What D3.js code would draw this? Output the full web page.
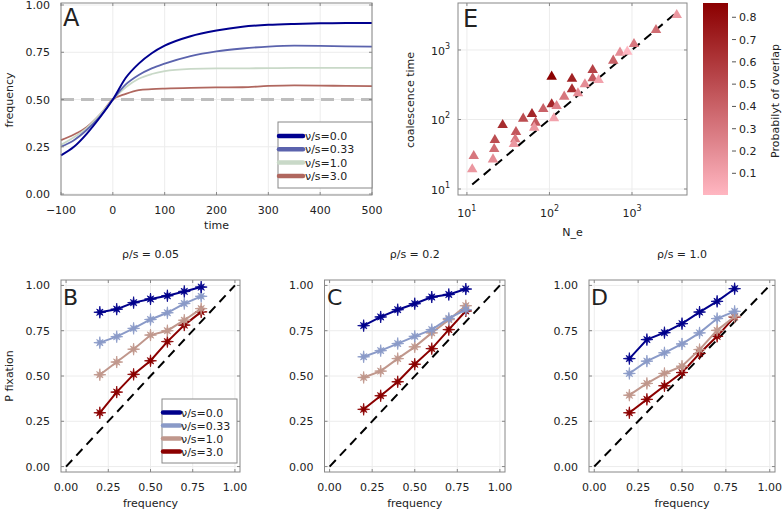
<!DOCTYPE html>
<html><head><meta charset="utf-8">
<script src="https://cdn.jsdelivr.net/npm/d3@7"></script>
<style>
body{margin:0;background:#fff;}
text{font-family:"DejaVu Sans",sans-serif;fill:#222;}
</style></head>
<body>
<svg id="c" width="782" height="510"></svg>
<script>
// ---------- DATA ----------
// Panel A: frequency trajectories vs time
const timesA = [-100,-75,-50,-25,0,25,50,75,100,150,200,250,300,350,400,450,500];
const seriesANames = ["ν/s=0.0","ν/s=0.33","ν/s=1.0","ν/s=3.0"];
const freqA_0  = [0.205,0.25,0.32,0.405,0.5,0.615,0.69,0.745,0.785,0.835,0.865,0.885,0.895,0.900,0.903,0.905,0.905];
const freqA_33 = [0.25,0.285,0.34,0.41,0.5,0.58,0.63,0.665,0.69,0.73,0.755,0.77,0.78,0.785,0.784,0.781,0.78];
const freqA_1  = [0.26,0.30,0.35,0.42,0.5,0.565,0.61,0.635,0.65,0.662,0.665,0.665,0.666,0.667,0.667,0.667,0.667];
const freqA_3  = [0.285,0.315,0.355,0.42,0.5,0.53,0.55,0.555,0.558,0.562,0.564,0.565,0.572,0.575,0.574,0.572,0.571];
const refLevelA = 0.5;
const xTicksA = [-100,0,100,200,300,400,500];
const yTicks01 = [0,0.25,0.5,0.75,1];

// Panel E: coalescence time vs N_e, colored by probability of overlap
const Ne = [12.1,11.6,21.8,21.4,20.7,27.1,39.3,38.5,37.1,48.1,61.4,68.0,65.4,84.1,106.4,106.4,113.4,122.2,151,187.5,187.5,221.5,269,334,334,394.5,593,716,877,1057,1954,3483];
const coalTime = [29.8,19.2,50.7,37.6,26.7,83.3,66.1,51.9,44.4,102.8,120,90,76.2,141.6,413,165.5,104,156.4,212.8,386,271.8,238,320.9,515,391.5,370,701.5,914,946,1219,1940,3190];
const overlap = [0.3,0.15,0.5,0.35,0.2,0.65,0.45,0.3,0.15,0.5,0.68,0.45,0.15,0.4,0.86,0.68,0.1,0.25,0.3,0.7,0.65,0.2,0.2,0.55,0.45,0.1,0.4,0.2,0.005,0.3,0.35,0.15];
const colorbarTicks = [0.1,0.2,0.3,0.4,0.5,0.6,0.7,0.8];
const logTicksE = [10,100,1000];

// Panels B-D: P fixation vs initial frequency
const freqBD = [0.2,0.3,0.4,0.5,0.6,0.7,0.8];
const seriesBDNames = ["ν/s=0.0","ν/s=0.33","ν/s=1.0","ν/s=3.0"];
const panelTitles = ["ρ/s = 0.05","ρ/s = 0.2","ρ/s = 1.0"];
const pfixB_0  = [0.852,0.869,0.905,0.925,0.943,0.967,0.991];
const pfixB_33 = [0.684,0.717,0.763,0.812,0.849,0.900,0.940];
const pfixB_1  = [0.507,0.577,0.648,0.726,0.750,0.808,0.872];
const pfixB_3  = [0.297,0.411,0.509,0.584,0.690,0.781,0.854];
const pfixC_0  = [0.778,0.826,0.866,0.899,0.936,0.950,0.980];
const pfixC_33 = [0.606,0.640,0.679,0.719,0.756,0.818,0.866];
const pfixC_1  = [0.492,0.527,0.596,0.661,0.738,0.811,0.888];
const pfixC_3  = [0.316,0.391,0.468,0.565,0.651,0.756,0.859];
const pfixD_0  = [0.596,0.701,0.739,0.789,0.853,0.912,0.982];
const pfixD_33 = [0.514,0.582,0.628,0.677,0.738,0.817,0.857];
const pfixD_1  = [0.394,0.459,0.514,0.554,0.646,0.752,0.829];
const pfixD_3  = [0.297,0.371,0.446,0.519,0.624,0.719,0.826];
const xTicksBD = [0,0.25,0.5,0.75,1];

// ---------- STYLE ----------
const colA = ["#00008f","#5b63ad","#c9d9c8","#b0675f"];
const colBD = ["#00008b","#8a9ac8","#c0978c","#8b0000"];
const frameCol = "#888";
const gridCol = "#ececec";
const fmt2 = d3.format(".2f");

const svg = d3.select("#c");

function frame(g, x0,x1,y0,y1){
  g.append("rect").attr("x",x0).attr("y",y0).attr("width",x1-x0).attr("height",y1-y0)
   .attr("fill","none").attr("stroke",frameCol).attr("stroke-width",1);
}
function grids(g, xs, ys, xt, yt, x0,x1,y0,y1){
  xt.forEach(t=>{const p=xs(t); g.append("line").attr("x1",p).attr("x2",p).attr("y1",y0).attr("y2",y1).attr("stroke",gridCol);});
  yt.forEach(t=>{const p=ys(t); g.append("line").attr("y1",p).attr("y2",p).attr("x1",x0).attr("x2",x1).attr("stroke",gridCol);});
}
function ticks(g, xs, ys, xt, yt, x0,x1,y0,y1){
  xt.forEach(t=>{const p=xs(t);
    g.append("line").attr("x1",p).attr("x2",p).attr("y1",y1).attr("y2",y1-3).attr("stroke",frameCol);
    g.append("line").attr("x1",p).attr("x2",p).attr("y1",y0).attr("y2",y0+3).attr("stroke",frameCol);});
  yt.forEach(t=>{const p=ys(t);
    g.append("line").attr("y1",p).attr("y2",p).attr("x1",x0).attr("x2",x0+3).attr("stroke",frameCol);
    g.append("line").attr("y1",p).attr("y2",p).attr("x1",x1).attr("x2",x1-3).attr("stroke",frameCol);});
}
function starPath(r){
  const pts=[];
  for(let i=0;i<16;i++){
    const a = i*Math.PI/8 - Math.PI/2;
    const rr = (i%2===0) ? ((i%4===0)? r : r*0.75) : r*0.3;
    pts.push([rr*Math.cos(a), rr*Math.sin(a)]);
  }
  return "M"+pts.map(p=>p[0].toFixed(2)+","+p[1].toFixed(2)).join("L")+"Z";
}

// ---------- PANEL A ----------
{
  const x0=61,x1=372,y0=3,y1=195;
  const xs=d3.scaleLinear().domain([-100,500]).range([x0,x1]);
  const ys=d3.scaleLinear().domain([-0.005,1.0106]).range([y1,y0]);
  const g=svg.append("g");
  grids(g,xs,ys,xTicksA,yTicks01,x0,x1,y0,y1);
  // reference dashed line
  g.append("line").attr("x1",xs(-100)).attr("x2",xs(500)).attr("y1",ys(refLevelA)).attr("y2",ys(refLevelA))
   .attr("stroke","#bdbdbd").attr("stroke-width",3).attr("stroke-dasharray","13,7");
  const allA=[freqA_0,freqA_33,freqA_1,freqA_3];
  const line=d3.line().x((d,i)=>xs(timesA[i])).y(d=>ys(d)).curve(d3.curveMonotoneX);
  allA.slice().reverse().forEach((s,k)=>{
    const idx=3-k;
    g.append("path").attr("d",line(s)).attr("fill","none").attr("stroke",colA[idx]).attr("stroke-width",idx===0?2:1.8);
  });
  frame(g,x0,x1,y0,y1);
  ticks(g,xs,ys,xTicksA,yTicks01,x0,x1,y0,y1);
  xTicksA.forEach(t=>g.append("text").attr("x",xs(t)).attr("y",214).attr("text-anchor","middle").attr("font-size",11).text(t<0?"−"+(-t):t));
  yTicks01.forEach(t=>g.append("text").attr("x",50).attr("y",ys(t)+4).attr("text-anchor","end").attr("font-size",11).text(fmt2(t)));
  g.append("text").attr("x",(x0+x1)/2).attr("y",229).attr("text-anchor","middle").attr("font-size",11).text("time");
  g.append("text").attr("transform","translate(13,100) rotate(-90)").attr("text-anchor","middle").attr("font-size",11).text("frequency");
  g.append("text").attr("x",63).attr("y",26).attr("font-size",24).text("A");
  // legend
  const lx=278, ly=122, lw=x1-lx, lh=66;
  g.append("rect").attr("x",lx).attr("y",ly).attr("width",lw).attr("height",lh).attr("fill","#fff").attr("stroke",frameCol);
  seriesANames.forEach((n,i)=>{
    const yy=ly+14+i*13.3;
    g.append("line").attr("x1",lx+1).attr("x2",lx+25).attr("y1",yy).attr("y2",yy).attr("stroke",colA[i]).attr("stroke-width",4.5).attr("stroke-linecap","round");
    g.append("text").attr("x",lx+27).attr("y",yy+4).attr("font-size",11).text(n);
  });
}

// ---------- PANEL E ----------
{
  const x0=458,x1=687,y0=3,y1=195;
  const xs=d3.scaleLog().domain([7.8,4640]).range([x0,x1]);
  const ys=d3.scaleLog().domain([8.2,4740]).range([y1,y0]);
  const ext=d3.extent(overlap);
  const cs=d3.scaleLinear().domain(ext).range(["#ffb6c1","#8b0000"]).interpolate(d3.interpolateRgb);
  const g=svg.append("g");
  grids(g,xs,ys,logTicksE,logTicksE,x0,x1,y0,y1);
  const lo=d3.min(Ne), hi=d3.max(Ne);
  g.append("line").attr("x1",xs(lo)).attr("y1",ys(lo)).attr("x2",xs(hi)).attr("y2",ys(hi))
   .attr("stroke","#000").attr("stroke-width",2).attr("stroke-dasharray","9,6");
  const tri=d3.symbol().type(d3.symbolTriangle).size(48);
  Ne.forEach((n,i)=>{
    g.append("path").attr("d",tri()).attr("transform",`translate(${xs(n)},${ys(coalTime[i])})`).attr("fill",cs(overlap[i]));
  });
  frame(g,x0,x1,y0,y1);
  ticks(g,xs,ys,logTicksE,logTicksE,x0,x1,y0,y1);
  logTicksE.forEach(t=>{
    const e=Math.round(Math.log10(t));
    const tx=g.append("text").attr("x",xs(t)).attr("y",217).attr("text-anchor","middle").attr("font-size",11);
    tx.append("tspan").text("10"); tx.append("tspan").attr("dy",-6).attr("font-size",8).text(e);
    const ty=g.append("text").attr("x",450).attr("y",ys(t)+5).attr("text-anchor","end").attr("font-size",11);
    ty.append("tspan").text("10"); ty.append("tspan").attr("dy",-6).attr("font-size",8).text(e);
  });
  g.append("text").attr("x",(x0+x1)/2).attr("y",236).attr("text-anchor","middle").attr("font-size",11).text("N_e");
  g.append("text").attr("transform","translate(414,100) rotate(-90)").attr("text-anchor","middle").attr("font-size",11).text("coalescence time");
  g.append("text").attr("x",463).attr("y",27).attr("font-size",24).text("E");

  // colorbar
  const cx0=703,cx1=728,cy0=3,cy1=195;
  const cbs=d3.scaleLinear().domain([0.0027,0.864]).range([cy1,cy0]);
  const defs=svg.append("defs");
  const grad=defs.append("linearGradient").attr("id","cbg").attr("x1",0).attr("x2",0).attr("y1",1).attr("y2",0);
  d3.range(0,1.001,0.1).forEach(f=>{
    const v=cbs.domain()[0]+f*(cbs.domain()[1]-cbs.domain()[0]);
    grad.append("stop").attr("offset",f).attr("stop-color",cs(Math.max(ext[0],Math.min(ext[1],v))));
  });
  g.append("rect").attr("x",cx0).attr("y",cy0).attr("width",cx1-cx0).attr("height",cy1-cy0).attr("fill","url(#cbg)");
  colorbarTicks.forEach(t=>{
    g.append("line").attr("x1",cx1+4).attr("x2",cx1+8).attr("y1",cbs(t)).attr("y2",cbs(t)).attr("stroke","#555");
    g.append("text").attr("x",739).attr("y",cbs(t)+4).attr("font-size",11).text(t.toFixed(1));
  });
  g.append("text").attr("transform","translate(779,101) rotate(-90)").attr("text-anchor","middle").attr("font-size",11).text("Probabilyt of overlap");
}

// ---------- PANELS B, C, D ----------
const panelsBD = [
  {x0:61,x1:240,letter:"B",lx:63,title:panelTitles[0],data:[pfixB_0,pfixB_33,pfixB_1,pfixB_3],legend:true,ylab:true},
  {x0:324.5,x1:505,letter:"C",lx:327,title:panelTitles[1],data:[pfixC_0,pfixC_33,pfixC_1,pfixC_3]},
  {x0:589,x1:775,letter:"D",lx:591,title:panelTitles[2],data:[pfixD_0,pfixD_33,pfixD_1,pfixD_3]}
];
panelsBD.forEach(P=>{
  const x0=P.x0,x1=P.x1,y0=280,y1=472;
  const xs=d3.scaleLinear().domain([-0.03,1.03]).range([x0,x1]);
  const ys=d3.scaleLinear().domain([-0.03,1.03]).range([y1,y0]);
  const g=svg.append("g");
  grids(g,xs,ys,xTicksBD,yTicks01,x0,x1,y0,y1);
  g.append("line").attr("x1",xs(0)).attr("y1",ys(0)).attr("x2",xs(1)).attr("y2",ys(1))
   .attr("stroke","#000").attr("stroke-width",2).attr("stroke-dasharray","9,6");
  const line=d3.line().x((d,i)=>xs(freqBD[i])).y(d=>ys(d));
  const sp=starPath(6);
  P.data.slice().reverse().forEach((s,k)=>{
    const idx=3-k;
    g.append("path").attr("d",line(s)).attr("fill","none").attr("stroke",colBD[idx]).attr("stroke-width",2);
    s.forEach((v,i)=>g.append("path").attr("d",sp).attr("transform",`translate(${xs(freqBD[i])},${ys(v)})`).attr("fill",colBD[idx]).attr("stroke",colBD[idx]).attr("stroke-width",0.8));
  });
  frame(g,x0,x1,y0,y1);
  ticks(g,xs,ys,xTicksBD,yTicks01,x0,x1,y0,y1);
  xTicksBD.forEach(t=>g.append("text").attr("x",xs(t)).attr("y",491).attr("text-anchor","middle").attr("font-size",11).text(fmt2(t)));
  yTicks01.forEach(t=>g.append("text").attr("x",x0-11).attr("y",ys(t)+4).attr("text-anchor","end").attr("font-size",11).text(fmt2(t)));
  g.append("text").attr("x",(x0+x1)/2).attr("y",507).attr("text-anchor","middle").attr("font-size",11).text("frequency");
  g.append("text").attr("x",(x0+x1)/2).attr("y",258).attr("text-anchor","middle").attr("font-size",11).text(P.title);
  g.append("text").attr("x",P.lx).attr("y",305).attr("font-size",22).text(P.letter);
  if(P.ylab) g.append("text").attr("transform","translate(13,376) rotate(-90)").attr("text-anchor","middle").attr("font-size",11).text("P fixation");
  if(P.legend){
    const lx=162, ly=399, lw=75, lh=64;
    g.append("rect").attr("x",lx).attr("y",ly).attr("width",lw).attr("height",lh).attr("fill","#fff").attr("stroke",frameCol);
    seriesBDNames.forEach((n,i)=>{
      const yy=ly+13.5+i*13;
      g.append("line").attr("x1",lx+1).attr("x2",lx+18).attr("y1",yy).attr("y2",yy).attr("stroke",colBD[i]).attr("stroke-width",4.5).attr("stroke-linecap","round");
      g.append("text").attr("x",lx+19).attr("y",yy+4).attr("font-size",11).text(n);
    });
  }
});
</script>
</body></html>
